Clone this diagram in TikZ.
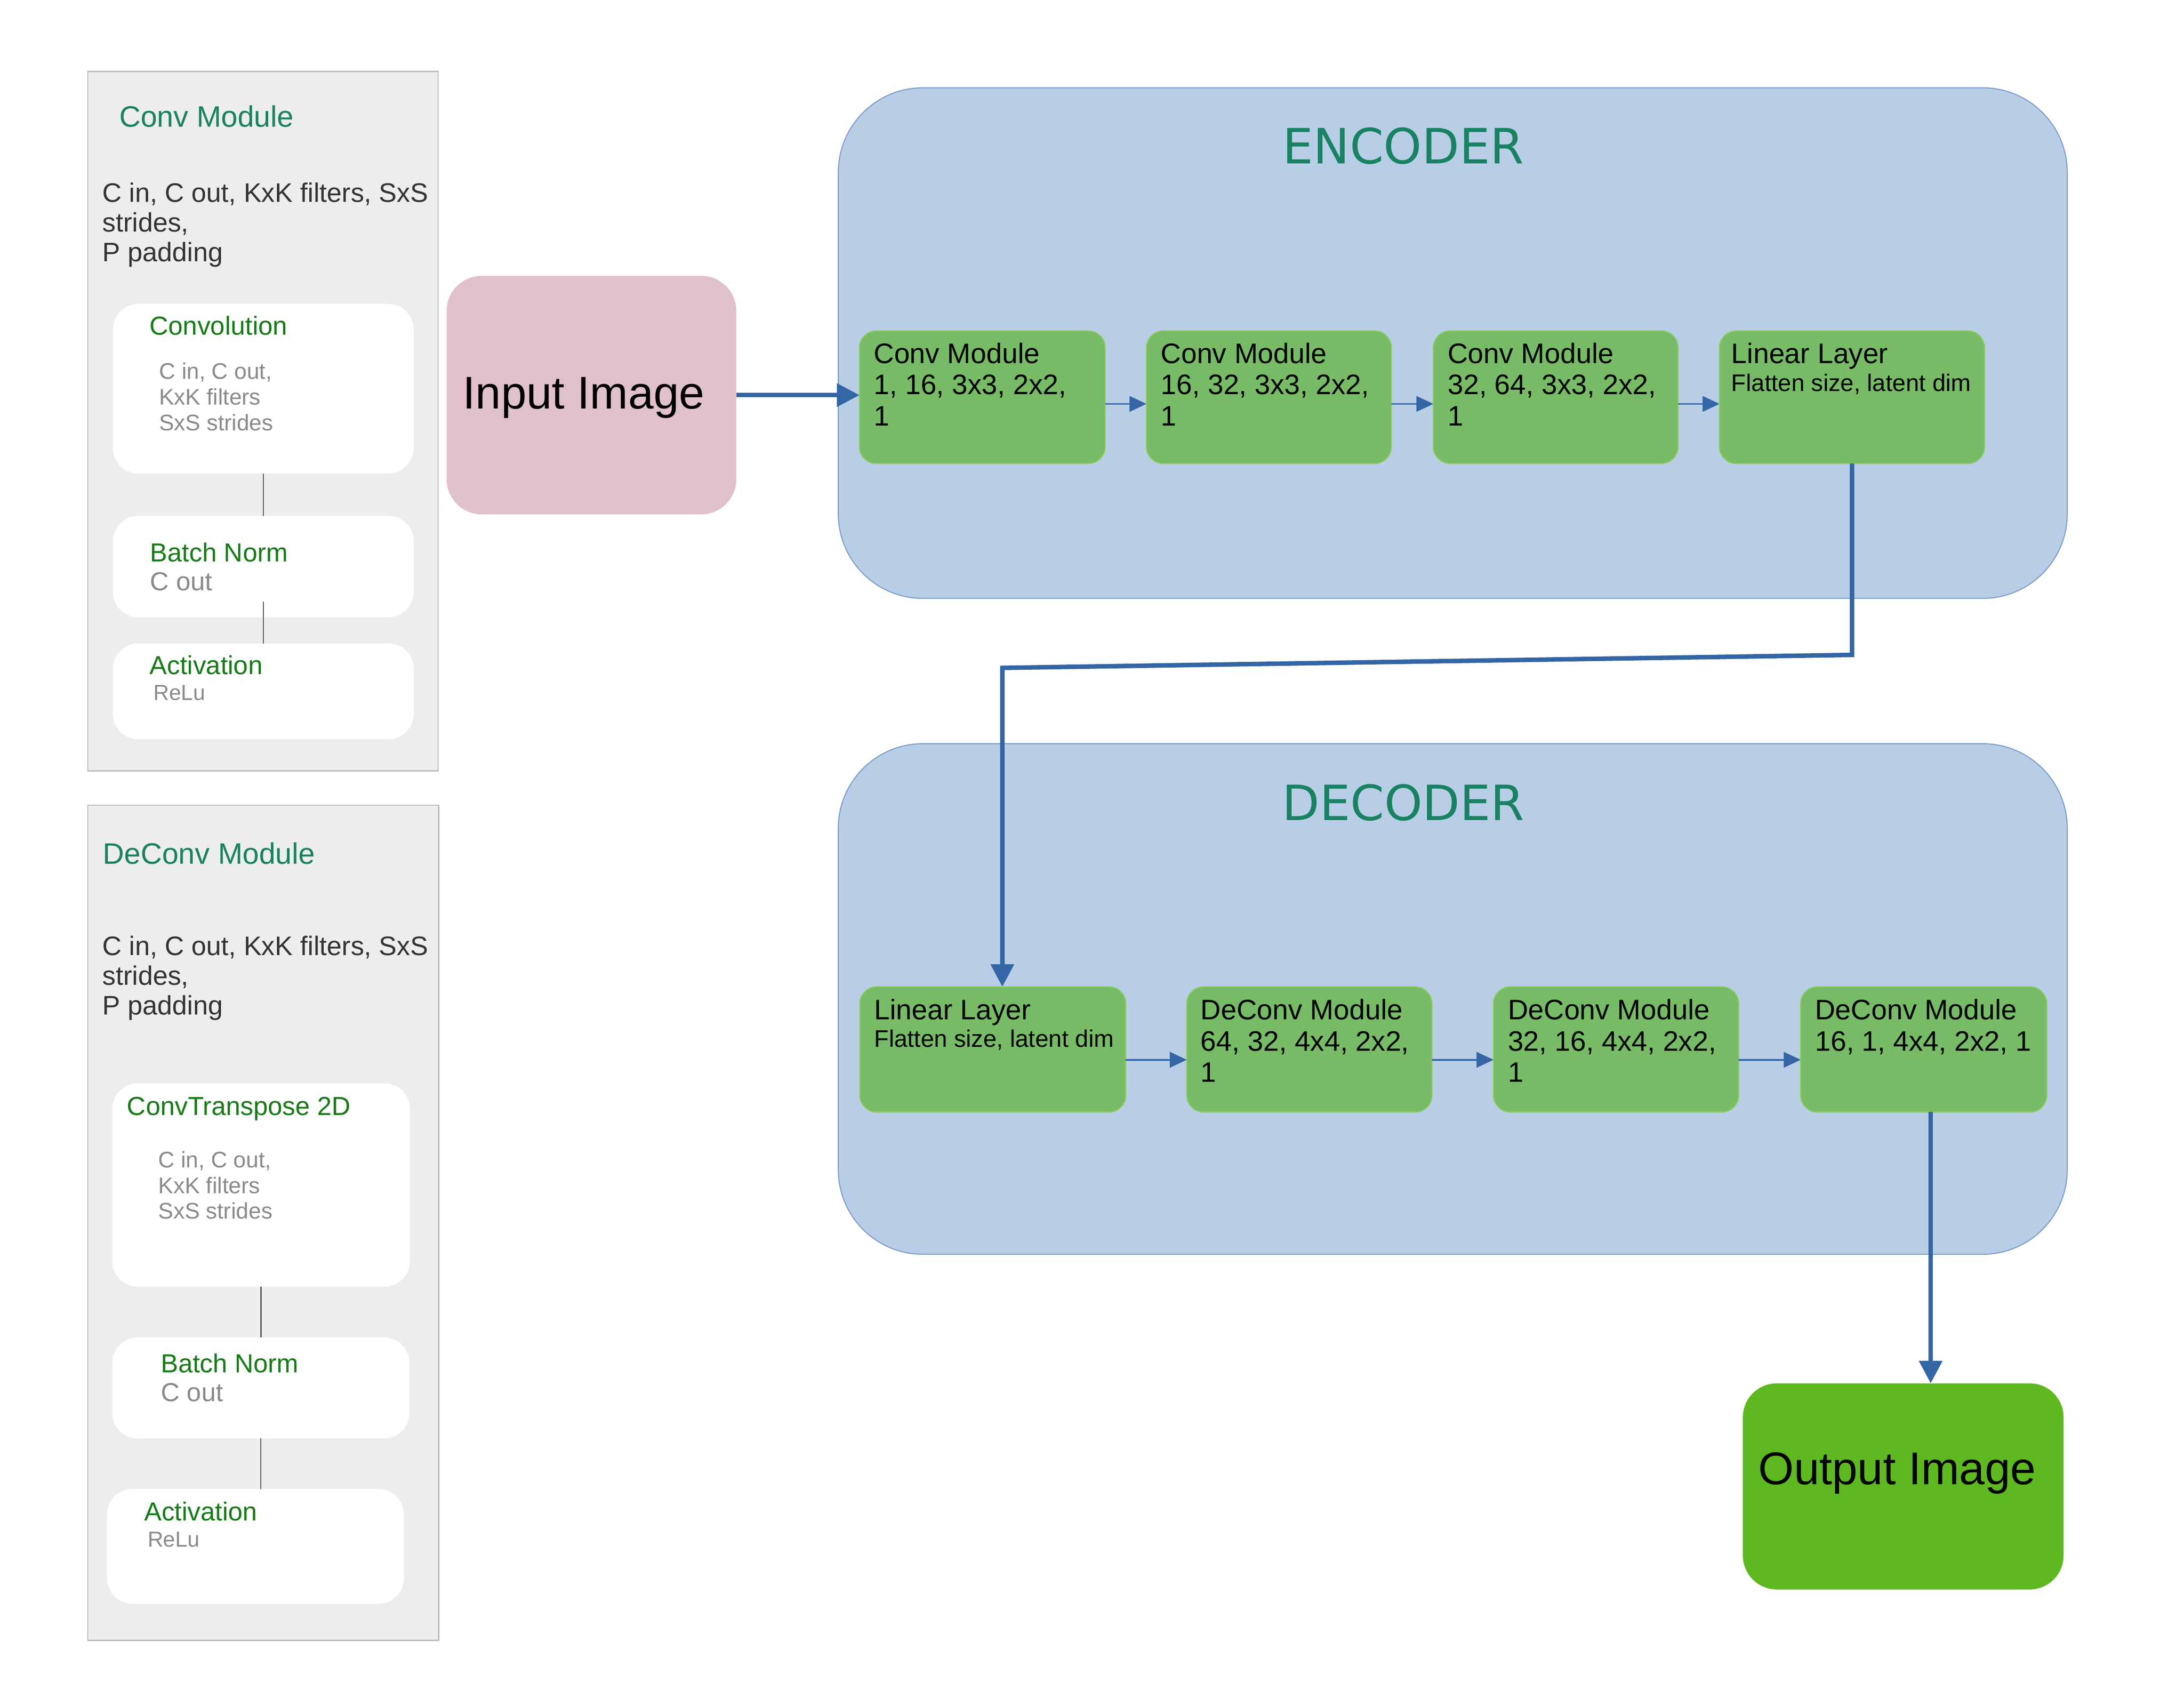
\documentclass[tikz,border=0pt]{standalone}
\usepackage{fontspec}
\setmainfont{Liberation Sans}
\newfontfamily\djv{DejaVu Sans}
\usetikzlibrary{arrows.meta}
\definecolor{panelgray}{HTML}{EDEDED}
\definecolor{panelborder}{HTML}{B8B8B8}
\definecolor{titleteal}{HTML}{188262}
\definecolor{subgreen}{HTML}{177A17}
\definecolor{txtgray}{HTML}{8A8A8A}
\definecolor{txtdark}{HTML}{333333}
\definecolor{blockblue}{HTML}{B8CEE6}
\definecolor{blockborder}{HTML}{7A9AC8}
\definecolor{modgreen}{HTML}{77BB66}
\definecolor{modborder}{HTML}{8CCB5E}
\definecolor{inpink}{HTML}{E0C1CB}
\definecolor{outgreen}{HTML}{5EB81F}
\definecolor{arrowblue}{HTML}{3465A4}
\tikzset{
  box/.style={rectangle, inner sep=0pt, outer sep=0pt},
  panel/.style={box, draw=panelborder, line width=0.8pt, fill=panelgray},
  wbox/.style={box, fill=white, rounded corners=18pt},
  group/.style={box, fill=blockblue, draw=blockborder, line width=0.7pt, rounded corners=60pt},
  mod/.style={box, fill=modgreen, draw=modborder, line width=0.8pt, rounded corners=12pt},
  txt/.style={anchor=base west, inner sep=0pt, align=left},
  ptitle/.style={txt, text=titleteal, font=\fontsize{21}{24}\selectfont},
  pdesc/.style={txt, text=txtdark, font=\fontsize{19}{21}\selectfont},
  stitle/.style={txt, text=subgreen, font=\fontsize{18.5}{20.5}\selectfont},
  sdesc/.style={txt, text=txtgray, font=\fontsize{16}{18.2}\selectfont},
  modtxt/.style={txt, text=black, font=\fontsize{20}{22.2}\selectfont},
  grouptxt/.style={anchor=base, inner sep=0pt, text=titleteal, font=\djv\fontsize{34.5}{40}\selectfont},
  bigtxt/.style={txt, text=black, font=\fontsize{32.5}{38}\selectfont},
  link/.style={draw=black!70, line width=0.8pt},
  thickarrow/.style={draw=arrowblue, line width=3.2pt, -{Triangle[length=16pt,width=16pt]}},
  thinarrow/.style={draw=arrowblue, line width=1.2pt, -{Triangle[length=12pt,width=11pt]}}
}
\begin{document}
\begin{tikzpicture}[x=1pt,y=-1pt]
\useasboundingbox (0,0) rectangle (1550.1,1211);
\fill[white] (0,0) rectangle (1550.1,1211);

% (multi-line text nodes are placed by the baseline of their last line)
% ---------- Conv Module legend ----------
\node[panel, minimum width=248.7pt, minimum height=496.4pt] (convpanel) at (186.65,298.8) {};
\node[ptitle] (convtitle) at (84.5,90) {Conv Module};
\node[pdesc] (convdesc) at (72.5,185.4) {C in, C out, KxK filters, SxS\\strides,\\P padding};
\node[wbox, minimum width=213.4pt, minimum height=120.3pt] (convbox) at (186.9,275.85) {};
\node[stitle] (convboxt) at (106,237.7) {Convolution};
\node[sdesc] (convboxd) at (112.8,305.4) {C in, C out,\\KxK filters\\SxS strides};
\node[wbox, minimum width=213.4pt, minimum height=72pt] (bnbox) at (186.9,402) {};
\node[stitle] (bnboxt) at (106.4,419) {Batch Norm\\\textcolor{txtgray}{C out}};
\node[wbox, minimum width=213.4pt, minimum height=68.1pt] (actbox) at (186.9,490.55) {};
\node[stitle] (actboxt) at (106,478.5) {Activation};
\node[sdesc, font=\fontsize{15.4}{18}\selectfont] (actboxd) at (108.7,496.8) {ReLu};
\coordinate (bnlow) at (186.9,427);
\draw[link] (convbox.south) -- (bnbox.north);
\draw[link] (bnlow) -- (actbox.north);

% ---------- DeConv Module legend ----------
\node[panel, minimum width=249.2pt, minimum height=592.7pt] (deconvpanel) at (186.9,867.65) {};
\node[ptitle] (deconvtitle) at (72.9,613) {DeConv Module};
\node[pdesc] (deconvdesc) at (72.5,720) {C in, C out, KxK filters, SxS\\strides,\\P padding};
\node[wbox, minimum width=211.2pt, minimum height=144.3pt] (ctbox) at (185.3,840.85) {};
\node[stitle] (ctboxt) at (90,791.4) {ConvTranspose 2D};
\node[sdesc] (ctboxd) at (112.3,864.9) {C in, C out,\\KxK filters\\SxS strides};
\node[wbox, minimum width=210.8pt, minimum height=71.7pt] (bn2box) at (185.1,984.85) {};
\node[stitle] (bn2boxt) at (114,994.5) {Batch Norm\\\textcolor{txtgray}{C out}};
\node[wbox, minimum width=210.6pt, minimum height=81.5pt] (act2box) at (181.3,1097.25) {};
\node[stitle] (act2boxt) at (102.2,1078.9) {Activation};
\node[sdesc, font=\fontsize{15.4}{18}\selectfont] (act2boxd) at (104.6,1097.6) {ReLu};
\draw[link] (ctbox.south) -- (ctbox.south |- bn2box.north);
\draw[link] (bn2box.south) -- (bn2box.south |- act2box.north);

% ---------- Encoder / Decoder groups ----------
\node[group, minimum width=872.2pt, minimum height=362.3pt] (encoder) at (1031.1,243.45) {};
\node[grouptxt] (enctitle) at (996,116) {ENCODER};
\node[group, minimum width=872.2pt, minimum height=362.3pt] (decoder) at (1031.1,708.85) {};
\node[grouptxt] (dectitle) at (996,582) {DECODER};

% ---------- Input / Output ----------
\node[box, fill=inpink, rounded corners=25pt, minimum width=205.6pt, minimum height=169.3pt] (input) at (419.8,280.35) {};
\node[bigtxt] (inputt) at (328.3,290) {Input Image};
\node[box, fill=outgreen, rounded corners=24pt, minimum width=227.6pt, minimum height=146.2pt] (output) at (1350.8,1054.7) {};
\node[bigtxt] (outputt) at (1247.8,1053.2) {Output Image};

% ---------- Encoder modules ----------
\node[mod, minimum width=174.4pt, minimum height=94.1pt] (e1) at (697.2,281.85) {};
\node[mod, minimum width=173.8pt, minimum height=94.1pt] (e2) at (900.6,281.85) {};
\node[mod, minimum width=173.7pt, minimum height=94.1pt] (e3) at (1104.15,281.85) {};
\node[mod, minimum width=188.1pt, minimum height=94.1pt] (e4) at (1314.45,281.85) {};
\node[modtxt] (e1t) at (620,302.1) {Conv Module\\1, 16, 3x3, 2x2,\\1};
\node[modtxt] (e2t) at (823.7,302.1) {Conv Module\\16, 32, 3x3, 2x2,\\1};
\node[modtxt] (e3t) at (1027.3,302.1) {Conv Module\\32, 64, 3x3, 2x2,\\1};
\node[modtxt] (e4t) at (1228.7,257.7) {Linear Layer};
\node[modtxt, font=\fontsize{17}{20}\selectfont] (e4d) at (1228.7,277.7) {Flatten size, latent dim};

% ---------- Decoder modules ----------
\node[mod, minimum width=188.7pt, minimum height=88.9pt] (d1) at (704.65,744.65) {};
\node[mod, minimum width=174pt, minimum height=88.9pt] (d2) at (929.3,744.65) {};
\node[mod, minimum width=174pt, minimum height=88.9pt] (d3) at (1147,744.65) {};
\node[mod, minimum width=174.7pt, minimum height=88.9pt] (d4) at (1365.35,744.65) {};
\node[modtxt] (d1t) at (620.3,723.4) {Linear Layer};
\node[modtxt, font=\fontsize{17}{20}\selectfont] (d1d) at (620.3,743) {Flatten size, latent dim};
\node[modtxt] (d2t) at (852,767.8) {DeConv Module\\64, 32, 4x4, 2x2,\\1};
\node[modtxt] (d3t) at (1070,767.8) {DeConv Module\\32, 16, 4x4, 2x2,\\1};
\node[modtxt] (d4t) at (1288,745.6) {DeConv Module\\16, 1, 4x4, 2x2, 1};

% ---------- Connectors ----------
\draw[thickarrow] (input.east) -- (input.east -| e1.west);
\draw[thinarrow] ([yshift=-4.75pt]e1.east) -- ([yshift=-4.75pt]e2.west);
\draw[thinarrow] ([yshift=-4.75pt]e2.east) -- ([yshift=-4.75pt]e3.west);
\draw[thinarrow] ([yshift=-4.75pt]e3.east) -- ([yshift=-4.75pt]e4.west);
\coordinate (bendA) at (1314.45,464.7);
\coordinate (bendB) at (711.4,473.9);
\draw[thickarrow, line join=miter] (e4.south) -- (bendA) -- (bendB) -- (bendB |- d1.north);
\draw[thinarrow] ([yshift=-7.35pt]d1.east) -- ([yshift=-7.35pt]d2.west);
\draw[thinarrow] ([yshift=-7.35pt]d2.east) -- ([yshift=-7.35pt]d3.west);
\draw[thinarrow] ([yshift=-7.35pt]d3.east) -- ([yshift=-7.35pt]d4.west);
\coordinate (outtop) at (1370.3,981.6);
\draw[thickarrow] (d4.south -| outtop) -- (outtop);
\end{tikzpicture}
\end{document}
